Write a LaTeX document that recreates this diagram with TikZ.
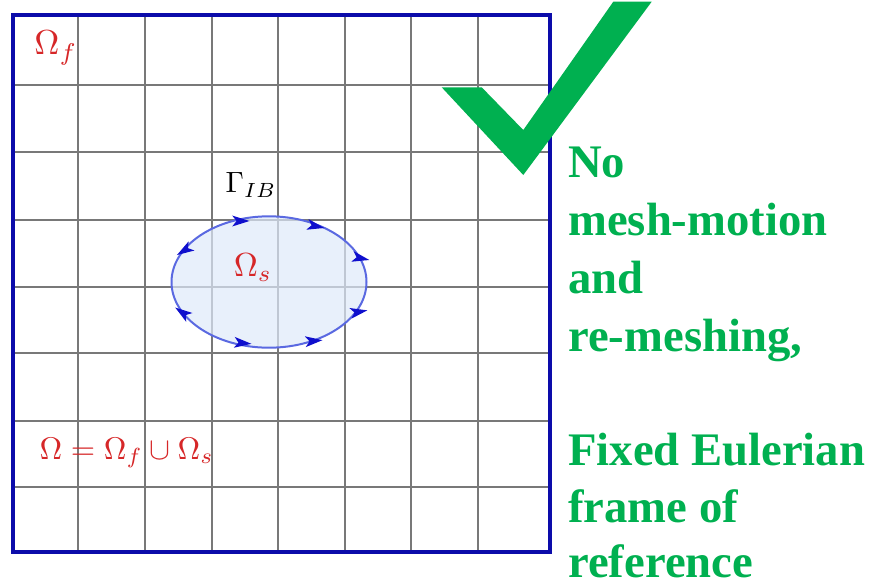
\documentclass[tikz,border=0pt]{standalone}
\usepackage{fontspec}
\usepackage{amsmath,amssymb}
\usepackage{tikz}
\usetikzlibrary{arrows.meta,positioning}
\newfontfamily\notefont{Liberation Serif}
\definecolor{gridgray}{RGB}{120,120,120}
\definecolor{framenavy}{RGB}{12,12,170}
\definecolor{labelred}{RGB}{214,39,40}
\definecolor{bodyfill}{RGB}{222,233,250}
\definecolor{bodyline}{RGB}{90,105,225}
\definecolor{tipblue}{RGB}{15,15,205}
\definecolor{checkgreen}{RGB}{0,176,80}

\begin{document}
\begin{tikzpicture}[
  x=0.75pt, y=-0.75pt,
  every node/.style={inner sep=0pt},
  gridline/.style={gridgray, line width=1.5pt},
  mathlabel/.style={text=labelred},
  notestyle/.style={text=checkgreen, font=\notefont\bfseries\fontsize{35}{42}\selectfont}
]
\useasboundingbox (0,0) rectangle (871,583);

% --- Rács ---
\foreach \gx in {78,145,212,278,345,411,478}
  \draw[gridline] (\gx,15) -- (\gx,552);
\foreach \gy in {85,152,220,287,353,421,487}
  \draw[gridline] (13,\gy) -- (550,\gy);

% --- Szilárd test (ellipszis) ---
\coordinate (body) at (269,282);
\fill[bodyfill, fill opacity=0.7] (body) ellipse [x radius=97.5, y radius=65.7];
\draw[bodyline, line width=1.5pt] (body) ellipse [x radius=97.5, y radius=65.7];

% nyílhegyek a határon
\foreach \ax/\ay/\aa in {240/221/0, 315/226/12, 360/258/12, 358/312/-10,
                         313/341/-5, 242/343/5, 183/313/215, 185/250/148}
  \fill[tipblue, shift={(\ax,\ay)}]
    (\aa:9.5) -- (\aa+145:9.5) -- (\aa+180:3.5) -- (\aa-145:9.5) -- cycle;

% --- Feliratok ---
\node[mathlabel, scale=2.6] (omegaf) at (56,48) {$\Omega_f$};
\node[scale=2.2] (gammaib) at (251,185) {$\Gamma_{IB}$};
\node[mathlabel, scale=2.5] (omegas) at (253,268) {$\Omega_s$};
\node[mathlabel, anchor=west, scale=2.35] (omegaall) at (39,453)
  {$\Omega=\Omega_f\cup\Omega_s$};

% --- Keret ---
\draw[framenavy, line width=2.8pt] (13,15) rectangle (550,552);

% --- Pipa ---
\fill[checkgreen] (441.7,87.3) -- (481.7,87.3) -- (523.3,130) -- (613.3,1.7)
  -- (651.7,1.7) -- (523.3,175) -- cycle;

% --- Szöveg jobbra ---
\foreach \txt/\by [count=\k] in {No/177, mesh-motion/235, and/293, {re-meshing,}/351,
                                 Fixed Eulerian/465, frame of/522, reference/577}
  \node[notestyle, anchor=base west] (note\k) at (568,\by) {\txt};

\end{tikzpicture}
\end{document}
